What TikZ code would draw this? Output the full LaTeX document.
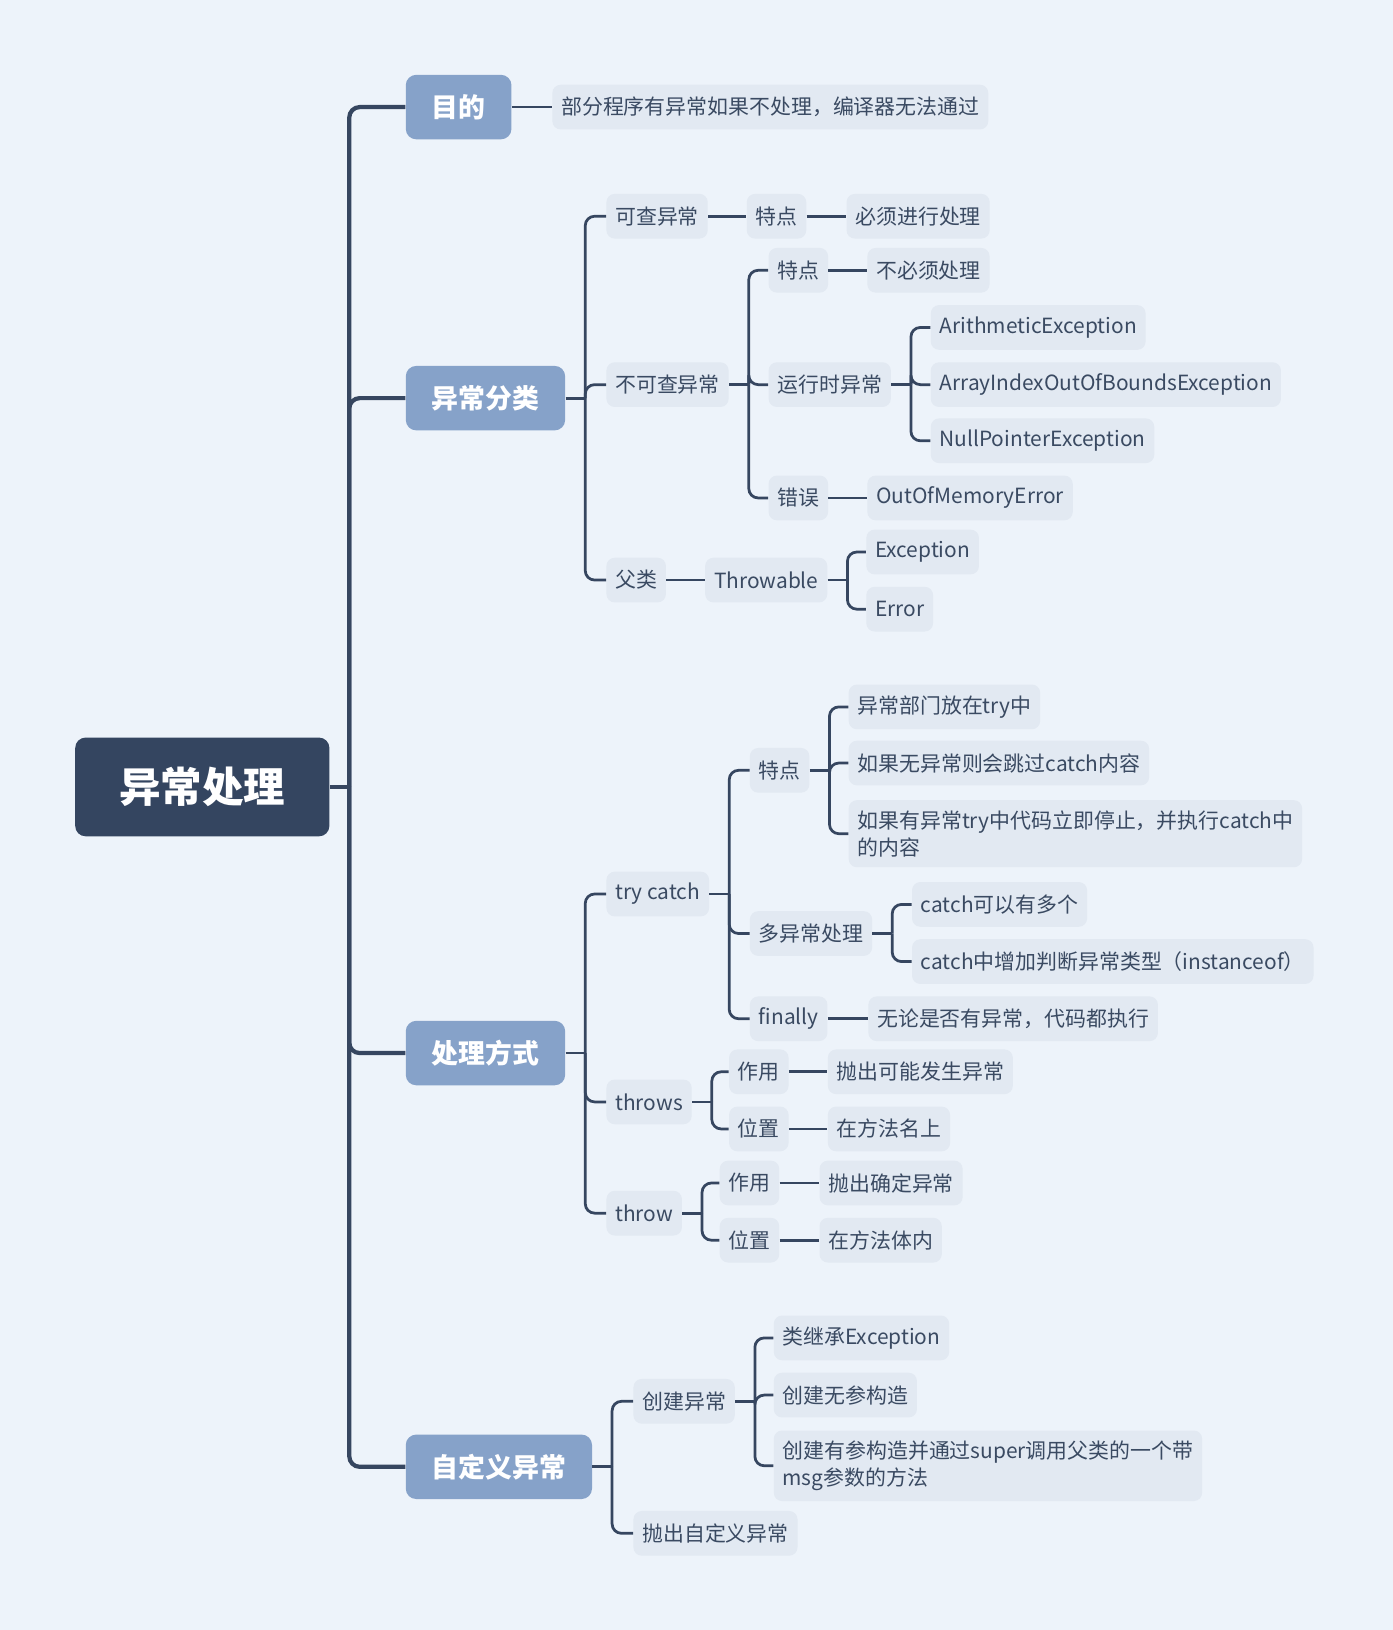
\documentclass[tikz,border=0pt]{standalone}
\usepackage{fontspec}
\setmainfont{Noto Sans CJK SC}
\usetikzlibrary{positioning}

\definecolor{bgcol}{HTML}{EDF3FA}
\definecolor{rootcol}{HTML}{344560}
\definecolor{topiccol}{HTML}{86A2C9}
\definecolor{leafcol}{HTML}{E2E9F2}
\definecolor{linecol}{HTML}{364660}
\definecolor{txtcol}{HTML}{3A4A62}

\begin{document}
\begin{tikzpicture}[
  x=0.02cm, y=-0.02cm,
  root/.style={rounded corners=0.2cm,fill=rootcol,text=white,anchor=west,
    font=\fontsize{22.7}{26}\selectfont\bfseries,minimum height=1.9cm,inner xsep=0.85cm},
  topic/.style={rounded corners=0.2cm,fill=topiccol,text=white,anchor=west,
    font=\fontsize{14.7}{17}\selectfont\bfseries,minimum height=1.24cm,inner xsep=0.5cm},
  leaf/.style={rounded corners=0.16cm,fill=leafcol,text=txtcol,anchor=west,
    font=\fontsize{11.45}{14.7}\selectfont,minimum height=0.86cm,inner xsep=0.17cm},
  twoline/.style={leaf,align=left,inner ysep=0.2cm},
  trunk/.style={draw=linecol,line width=2.3pt,rounded corners=0.2cm},
  link/.style={draw=linecol,line width=1.5pt,rounded corners=0.18cm}
]
  \fill[bgcol] (0,0) rectangle (1340,1568);
  \useasboundingbox (0,0) rectangle (1340,1568);

  % root and main topics
  \node[root] (R) at (72,757) {异常处理};
  \node[topic] (T1) at (390,103) {目的};
  \node[topic] (T2) at (390,383) {异常分类};
  \node[topic] (T3) at (390,1013) {处理方式};
  \node[topic] (T4) at (390,1411) {自定义异常};
  \coordinate (sp) at (336,757);
  \draw[trunk] (R.east) -- (sp);
  \foreach \t in {T1,T2,T3,T4}
    \draw[trunk] (sp) |- (\t.west);

  % 目的
  \node[leaf] (A1) at (531,103) {部分程序有异常如果不处理，编译器无法通过};
  \draw[link] (T1.east) -- (A1.west);

  % 异常分类
  \node[leaf] (K1) at (583,208) {可查异常};
  \node[leaf] (K2) at (583,370) {不可查异常};
  \node[leaf] (K3) at (583,558) {父类};
  \coordinate[right=0.38cm of T2] (b2);
  \draw[link] (T2.east) -- (b2);
  \foreach \c in {K1,K2,K3}
    \draw[link] (b2) |- (\c.west);

  \node[leaf] (K1a) at (718,208) {特点};
  \node[leaf] (K1b) at (814,208) {必须进行处理};
  \draw[link] (K1.east) -- (K1a.west);
  \draw[link] (K1a.east) -- (K1b.west);

  \node[leaf] (U1) at (739,260) {特点};
  \node[leaf] (U2) at (739,370) {运行时异常};
  \node[leaf] (U3) at (739,479) {错误};
  \coordinate[right=0.38cm of K2] (bK2);
  \draw[link] (K2.east) -- (bK2);
  \foreach \c in {U1,U2,U3}
    \draw[link] (bK2) |- (\c.west);
  \node[leaf] (U1a) at (834,260) {不必须处理};
  \draw[link] (U1.east) -- (U1a.west);
  \node[leaf] (E1) at (895,315) {ArithmeticException};
  \node[leaf] (E2) at (895,370) {ArrayIndexOutOfBoundsException};
  \node[leaf] (E3) at (895,424) {NullPointerException};
  \coordinate[right=0.38cm of U2] (bU2);
  \draw[link] (U2.east) -- (bU2);
  \foreach \c in {E1,E2,E3}
    \draw[link] (bU2) |- (\c.west);
  \node[leaf] (U3a) at (834,479) {OutOfMemoryError};
  \draw[link] (U3.east) -- (U3a.west);

  \node[leaf] (P1) at (678,558) {Throwable};
  \draw[link] (K3.east) -- (P1.west);
  \node[leaf] (P1a) at (833,531) {Exception};
  \node[leaf] (P1b) at (833,586) {Error};
  \coordinate[right=0.38cm of P1] (bP1);
  \draw[link] (P1.east) -- (bP1);
  \foreach \c in {P1a,P1b}
    \draw[link] (bP1) |- (\c.west);

  % 处理方式
  \node[leaf] (C1) at (583,860) {try catch};
  \node[leaf] (C2) at (583,1060) {throws};
  \node[leaf] (C3) at (583,1167) {throw};
  \coordinate[right=0.38cm of T3] (b3);
  \draw[link] (T3.east) -- (b3);
  \foreach \c in {C1,C2,C3}
    \draw[link] (b3) |- (\c.west);

  \node[leaf] (C1a) at (721,741) {特点};
  \node[leaf] (C1b) at (721,898) {多异常处理};
  \node[leaf] (C1c) at (721,980) {finally};
  \coordinate[right=0.38cm of C1] (bC1);
  \draw[link] (C1.east) -- (bC1);
  \foreach \c in {C1a,C1b,C1c}
    \draw[link] (bC1) |- (\c.west);

  \node[leaf] (F1) at (816,680) {异常部门放在try中};
  \node[leaf] (F2) at (816,734) {如果无异常则会跳过catch内容};
  \node[twoline] (F3) at (816,802) {如果有异常try中代码立即停止，并执行catch中\\的内容};
  \coordinate[right=0.38cm of C1a] (bC1a);
  \draw[link] (C1a.east) -- (bC1a);
  \foreach \c in {F1,F2,F3}
    \draw[link] (bC1a) |- (\c.west);

  \node[leaf] (M1) at (877,870) {catch可以有多个};
  \node[leaf] (M2) at (877,925) {catch中增加判断异常类型（instanceof）};
  \coordinate[right=0.38cm of C1b] (bC1b);
  \draw[link] (C1b.east) -- (bC1b);
  \foreach \c in {M1,M2}
    \draw[link] (bC1b) |- (\c.west);

  \node[leaf] (C1c1) at (835,980) {无论是否有异常，代码都执行};
  \draw[link] (C1c.east) -- (C1c1.west);

  \node[leaf] (S1) at (701,1031) {作用};
  \node[leaf] (S2) at (701,1086) {位置};
  \coordinate[right=0.38cm of C2] (bC2);
  \draw[link] (C2.east) -- (bC2);
  \foreach \c in {S1,S2}
    \draw[link] (bC2) |- (\c.west);
  \node[leaf] (S1a) at (796,1031) {抛出可能发生异常};
  \node[leaf] (S2a) at (796,1086) {在方法名上};
  \draw[link] (S1.east) -- (S1a.west);
  \draw[link] (S2.east) -- (S2a.west);

  \node[leaf] (W1) at (692,1138) {作用};
  \node[leaf] (W2) at (692,1193) {位置};
  \coordinate[right=0.38cm of C3] (bC3);
  \draw[link] (C3.east) -- (bC3);
  \foreach \c in {W1,W2}
    \draw[link] (bC3) |- (\c.west);
  \node[leaf] (W1a) at (788,1138) {抛出确定异常};
  \node[leaf] (W2a) at (788,1193) {在方法体内};
  \draw[link] (W1.east) -- (W1a.west);
  \draw[link] (W2.east) -- (W2a.west);

  % 自定义异常
  \node[leaf] (D1) at (609,1348) {创建异常};
  \node[leaf] (D2) at (609,1475) {抛出自定义异常};
  \coordinate[right=0.38cm of T4] (b4);
  \draw[link] (T4.east) -- (b4);
  \foreach \c in {D1,D2}
    \draw[link] (b4) |- (\c.west);

  \node[leaf] (D1a) at (744,1287) {类继承Exception};
  \node[leaf] (D1b) at (744,1342) {创建无参构造};
  \node[twoline] (D1c) at (744,1410) {创建有参构造并通过super调用父类的一个带\\msg参数的方法};
  \coordinate[right=0.38cm of D1] (bD1);
  \draw[link] (D1.east) -- (bD1);
  \foreach \c in {D1a,D1b,D1c}
    \draw[link] (bD1) |- (\c.west);
\end{tikzpicture}
\end{document}
